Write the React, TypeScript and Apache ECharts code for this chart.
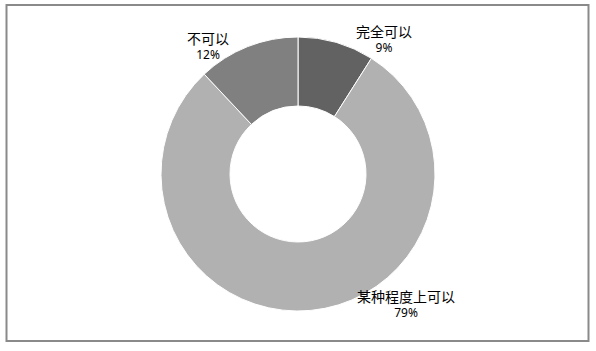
import React, { useEffect, useRef } from "react";
import * as echarts from "echarts";

const categories = ["完全可以", "某种程度上可以", "不可以"];
const values = [9, 79, 12];
const colors = ["#626262", "#b1b1b1", "#808080"];
// label anchor positions (center of two-line label block)
const labelPos = [
  [384, 39],
  [406, 304],
  [208, 46],
];

export default function App() {
  const ref = useRef<HTMLDivElement>(null);
  useEffect(() => {
    document.body.style.margin = "0";
    const chart = echarts.init(ref.current!, null, { renderer: "svg" });
    chart.setOption({
      animation: false,
      backgroundColor: "#ffffff",
      graphic: [
        {
          type: "rect",
          shape: { x: 6.5, y: 5, width: 582, height: 336 },
          style: { fill: "none", stroke: "#8a8a8a", lineWidth: 2 },
          z: 0,
        },
      ],
      series: [
        {
          type: "pie",
          center: [298, 174],
          radius: [68, 137],
          startAngle: 90,
          clockwise: true,
          itemStyle: { borderColor: "#ffffff", borderWidth: 1 },
          labelLine: { show: false },
          label: {
            show: true,
            position: "outside",
            formatter: "{n|{b}}\n{p|{d}%}",
            rich: {
              n: {
                fontSize: 14,
                lineHeight: 17,
                color: "#000",
                fontFamily: "Noto Sans CJK SC",
                align: "center",
              },
              p: {
                fontSize: 12,
                lineHeight: 17,
                color: "#000",
                fontFamily: "Noto Sans",
                align: "center",
              },
            },
          },
          labelLayout: (params: any) => {
            const p = labelPos[params.dataIndex];
            return { x: p[0], y: p[1], align: "center", verticalAlign: "middle" };
          },
          data: categories.map((c, i) => ({
            name: c,
            value: values[i],
            itemStyle: { color: colors[i] },
          })),
        },
      ],
    });
    return () => chart.dispose();
  }, []);
  return <div ref={ref} style={{ width: 596, height: 351 }} />;
}
